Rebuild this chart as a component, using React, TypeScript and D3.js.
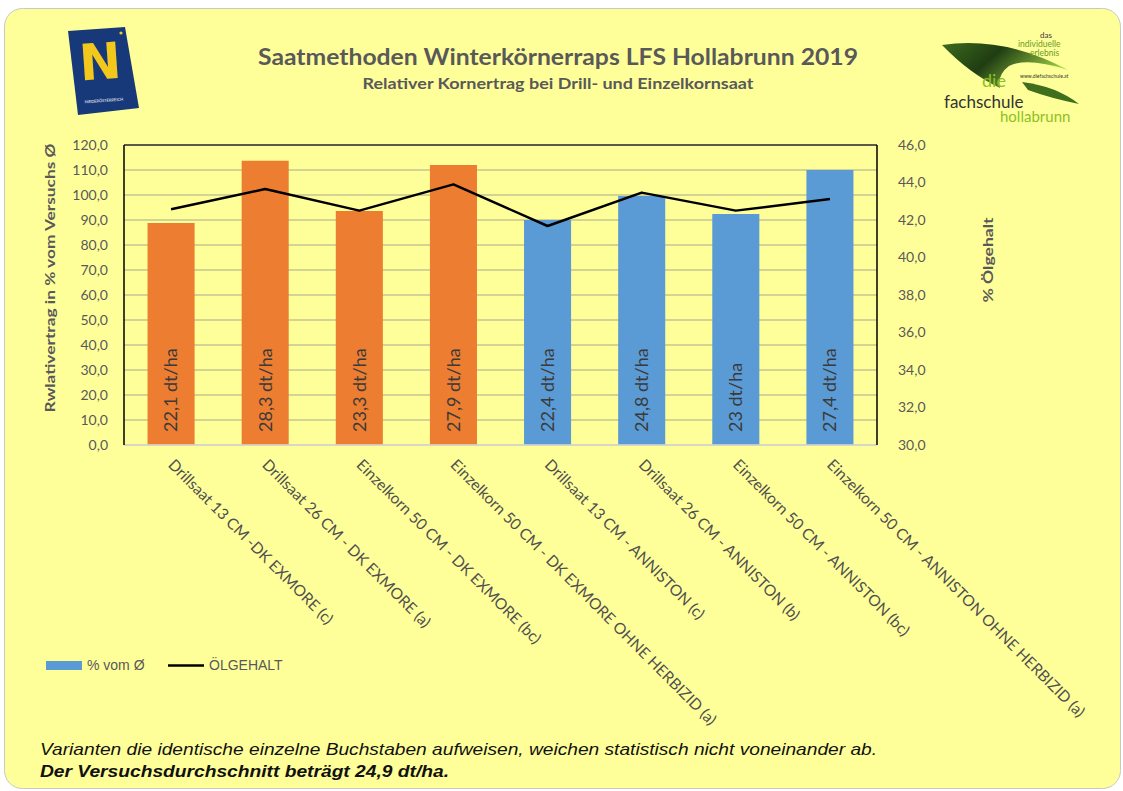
import React from "react";
import * as d3 from "d3";

// Seeding methods for winter oilseed rape: relative yield (bars) + oil content (line)
const categories = [
  "Drillsaat 13 CM -DK EXMORE (c)",
  "Drillsaat 26 CM - DK  EXMORE (a)",
  "Einzelkorn 50 CM - DK EXMORE (bc)",
  "Einzelkorn 50 CM - DK EXMORE OHNE HERBIZID (a)",
  "Drillsaat 13 CM - ANNISTON (c)",
  "Drillsaat 26 CM - ANNISTON (b)",
  "Einzelkorn 50 CM - ANNISTON (bc)",
  "Einzelkorn 50 CM - ANNISTON OHNE HERBIZID (a)",
];
const variety = ["EXMORE", "EXMORE", "EXMORE", "EXMORE", "ANNISTON", "ANNISTON", "ANNISTON", "ANNISTON"];
const relYield = [88.8, 113.7, 93.6, 112.0, 90.0, 99.6, 92.4, 110.0];
const yieldLabels = ["22,1 dt/ha", "28,3 dt/ha", "23,3 dt/ha", "27,9 dt/ha", "22,4 dt/ha", "24,8 dt/ha", "23 dt/ha", "27,4 dt/ha"];
const oilContent = [42.57, 43.65, 42.5, 43.9, 41.68, 43.46, 42.5, 43.12];
const leftDomain = [0, 120];
const rightDomain = [30, 46];

const W = 1123;
const H = 791;
const plot = { left: 124, right: 877, top: 145, bottom: 445 };
const gray = "#595959";
const font = "Lato, 'Open Sans', sans-serif";

const fmt = (v: number) => d3.format(".1f")(v).replace(".", ",");

export default function App() {
  const x = d3
    .scaleBand<string>()
    .domain(categories)
    .range([plot.left, plot.right])
    .paddingInner(0.5)
    .paddingOuter(0.25);
  const yL = d3.scaleLinear().domain(leftDomain).range([plot.bottom, plot.top]);
  const yR = d3.scaleLinear().domain(rightDomain).range([plot.bottom, plot.top]);
  const color = d3.scaleOrdinal<string, string>().domain(["EXMORE", "ANNISTON"]).range(["#ed7d31", "#5b9bd5"]);

  const leftTicks = d3.range(leftDomain[0], leftDomain[1] + 1, 10);
  const rightTicks = d3.range(rightDomain[0], rightDomain[1] + 0.1, 2);
  const cx = (c: string) => (x(c) as number) + x.bandwidth() / 2;

  const line = d3
    .line<number>()
    .x((_, i) => cx(categories[i]))
    .y((d) => yR(d));

  return (
    <svg
      width={W}
      height={H}
      style={{ position: "absolute", left: 0, top: 0, background: "#fff" }}
      fontFamily={font}
    >
      <defs>
        <linearGradient id="wing" x1="0" y1="0" x2="1" y2="0.4">
          <stop offset="0" stopColor="#3d6b1e" />
          <stop offset="0.45" stopColor="#1f3d12" />
          <stop offset="1" stopColor="#9ccf45" />
        </linearGradient>
      </defs>
      <rect x={4.5} y={8.5} width={1116} height={780} rx={18} fill="#ffff99" stroke="#c8c8c8" />

      {/* left logo */}
      <polygon points="68,31 125,27 139,108 78,115" fill="#17397a" />
      <text
        x={100}
        y={79}
        textAnchor="middle"
        fontFamily="'DejaVu Sans', sans-serif"
        fontWeight="bold"
        fontSize={50}
        fill="#f3c81c"
        transform="rotate(-4 100 60)"
      >
        N
      </text>
      <circle cx={121} cy={33} r={1.6} fill="#f3c81c" />
      <text x={104} y={102} textAnchor="middle" fontSize={4} fill="#fff" transform="rotate(-4 104 102)">
        NIEDERÖSTERREICH
      </text>

      {/* right logo */}
      <path d="M942,45 Q1005,36 1068,70 Q1027,57 1009,66 Q997,75 1000,88 Q970,74 942,45 Z" fill="url(#wing)" />
      <path d="M1022,82 Q1056,86 1079,104 Q1050,98 1028,90 Z" fill="#3f6e1c" />
      <text x={1040} y={38} fontSize={8} fill="#3a3a3a">das</text>
      <text x={1018} y={47} fontSize={8.5} fill="#6a9a2a">individuelle</text>
      <text x={1030} y={56} fontSize={8.5} fill="#6a9a2a">erlebnis</text>
      <text x={1020} y={78} fontSize={5} fill="#333">www.diefachschule.at</text>
      <text x={982} y={87} fontSize={18} fill="#8cbf26">die</text>
      <text x={944} y={108} fontSize={17} fill="#333">fachschule</text>
      <text x={1000} y={122} fontSize={15} fill="#8cbf26">hollabrunn</text>

      {/* titles */}
      <text x={558} y={65} textAnchor="middle" fontSize={22} fontWeight="bold" fill={gray} textLength={600} lengthAdjust="spacingAndGlyphs">
        Saatmethoden Winterkörnerraps LFS Hollabrunn 2019
      </text>
      <text x={558} y={89} textAnchor="middle" fontSize={14.5} fontWeight="bold" fill={gray} textLength={391} lengthAdjust="spacingAndGlyphs">
        Relativer Kornertrag bei Drill- und Einzelkornsaat
      </text>

      {/* gridlines */}
      {leftTicks.map((t) => (
        <line key={t} x1={plot.left} x2={plot.right} y1={yL(t)} y2={yL(t)} stroke="#a8a890" strokeWidth={1.2} />
      ))}

      {/* bars */}
      {categories.map((c, i) => (
        <rect
          key={c}
          x={x(c)}
          y={yL(relYield[i])}
          width={x.bandwidth()}
          height={yL(0) - yL(relYield[i])}
          fill={color(variety[i])}
        />
      ))}
      {categories.map((c, i) => (
        <text
          key={c}
          transform={`translate(${cx(c)},${plot.bottom - 13}) rotate(-90)`}
          dy="0.35em"
          fontSize={18}
          fill="#3a3a3a"
        >
          {yieldLabels[i]}
        </text>
      ))}

      {/* oil content line */}
      <path d={line(oilContent) as string} fill="none" stroke="#000" strokeWidth={2.5} strokeLinejoin="round" />

      {/* frame */}
      <line x1={plot.left} x2={plot.right} y1={plot.bottom} y2={plot.bottom} stroke="#d9d9d9" strokeWidth={1.5} />
      <line x1={plot.left} x2={plot.right} y1={plot.top} y2={plot.top} stroke="#333" strokeWidth={1.5} />
      <line x1={plot.left} x2={plot.left} y1={plot.top} y2={plot.bottom} stroke="#000" strokeWidth={1.5} />
      <line x1={plot.right} x2={plot.right} y1={plot.top} y2={plot.bottom} stroke="#000" strokeWidth={1.5} />

      {/* axes labels */}
      {leftTicks.map((t) => (
        <text key={t} x={108} y={yL(t)} dy="0.35em" textAnchor="end" fontSize={14} fill={gray}>
          {fmt(t)}
        </text>
      ))}
      {rightTicks.map((t) => (
        <text key={t} x={898} y={yR(t)} dy="0.35em" fontSize={14} fill={gray}>
          {fmt(t)}
        </text>
      ))}
      <text
        transform="translate(50,278) rotate(-90)"
        dy="0.35em"
        textAnchor="middle"
        fontSize={14}
        fontWeight="bold"
        fill={gray}
        textLength={269}
        lengthAdjust="spacingAndGlyphs"
      >
        Rwlativertrag in % vom Versuchs Ø
      </text>
      <text
        transform="translate(988,260) rotate(-90)"
        dy="0.35em"
        textAnchor="middle"
        fontSize={14}
        fontWeight="bold"
        fill={gray}
        textLength={85}
        lengthAdjust="spacingAndGlyphs"
      >
        % Ölgehalt
      </text>

      {/* category labels */}
      {categories.map((c) => (
        <text key={c} transform={`translate(${cx(c)},${plot.bottom + 17}) rotate(45)`} dy="0.35em" fontSize={15.5} fill="#505050">
          {c}
        </text>
      ))}

      {/* legend */}
      <rect x={46} y={661} width={36} height={9} fill="#5b9bd5" />
      <text x={87} y={670} fontFamily="'Liberation Sans', Arial, sans-serif" fontSize={14} fill={gray}>
        % vom Ø
      </text>
      <line x1={168} x2={204} y1={665.5} y2={665.5} stroke="#000" strokeWidth={2.5} />
      <text x={209} y={670} fontFamily="'Liberation Sans', Arial, sans-serif" fontSize={14} fill={gray}>
        ÖLGEHALT
      </text>

      {/* footnote */}
      <text x={40} y={755} fontFamily="'Liberation Sans', Arial, sans-serif" fontStyle="italic" fontSize={16.5} fill="#111" textLength={837} lengthAdjust="spacingAndGlyphs">
        Varianten die identische einzelne Buchstaben aufweisen, weichen statistisch nicht voneinander ab.
      </text>
      <text x={40} y={777} fontFamily="'Liberation Sans', Arial, sans-serif" fontStyle="italic" fontWeight="bold" fontSize={16.5} fill="#111" textLength={409} lengthAdjust="spacingAndGlyphs">
        Der Versuchsdurchschnitt beträgt 24,9 dt/ha.
      </text>
    </svg>
  );
}
